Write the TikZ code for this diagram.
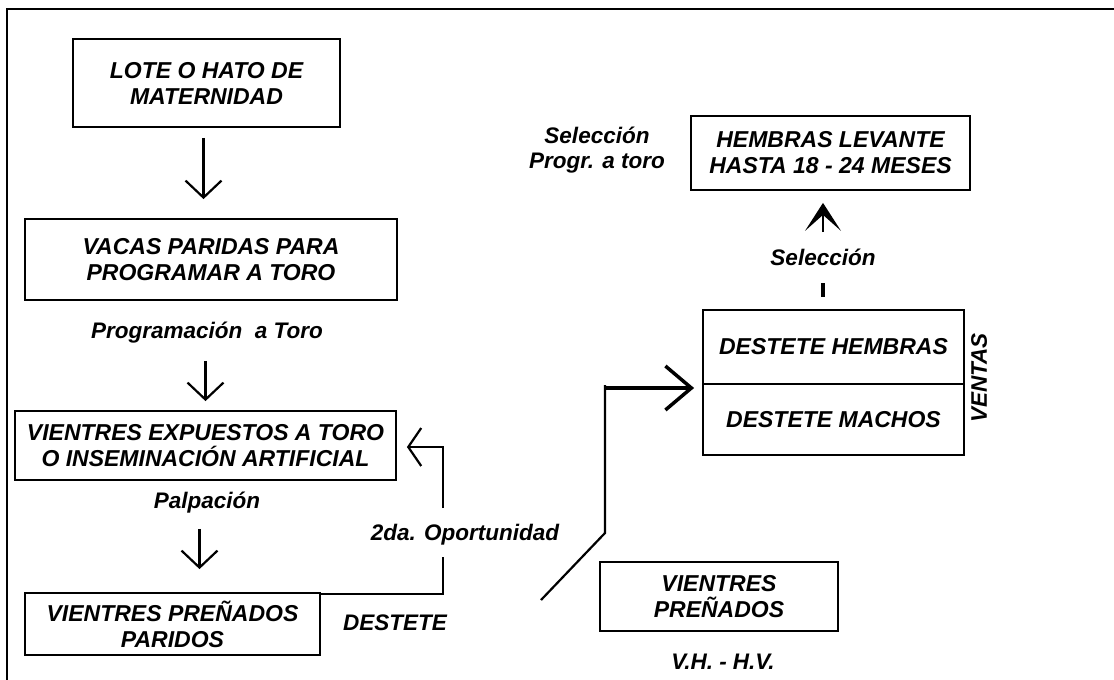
\documentclass[tikz,border=0pt]{standalone}
\usepackage{fontspec}
\setmainfont{Liberation Sans}
\usetikzlibrary{arrows.meta}
\begin{document}
\begin{tikzpicture}[x=1pt,y=-1pt,
  box/.style={draw, line width=1.8pt, inner sep=0pt, align=center,
    font=\fontsize{23}{26}\selectfont\bfseries\itshape},
  lbl/.style={inner sep=0pt, align=center,
    font=\fontsize{22.5}{25}\selectfont\bfseries\itshape},
  conn/.style={line width=2.2pt},
  downarr/.style={conn, -{Straight Barb[length=17pt,width=36pt]}},
  backarr/.style={conn, -{Straight Barb[length=13pt,width=38pt]}},
  bigarr/.style={line width=4pt, -{Straight Barb[length=26pt,width=44pt,line width=3.5pt]}},
  uparr/.style={line width=2.2pt, -{Stealth[length=28pt,width=36pt,inset=16pt]}}]
\useasboundingbox (0,0) rectangle (1114,680);
% frame
\draw[line width=2.2pt] (7,680) -- (7,9) -- (1114,9);
% boxes
\node[box, minimum width=267pt, minimum height=88pt] (lote) at (206.5,83) {LOTE O HATO DE\\MATERNIDAD};
\node[box, minimum width=372pt, minimum height=81pt] (vacas) at (211,259.5) {VACAS PARIDAS PARA\\PROGRAMAR A TORO};
\node[box, minimum width=381pt, minimum height=69pt] (expu) at (205.5,445.5) {VIENTRES EXPUESTOS A TORO\\O INSEMINACIÓN ARTIFICIAL};
\node[box, minimum width=295pt, minimum height=62pt] (pren) at (172.5,624) {VIENTRES PREÑADOS\\PARIDOS};
\node[box, minimum width=279pt, minimum height=74pt] (hemb) at (830.5,153) {HEMBRAS LEVANTE\\HASTA 18 - 24 MESES};
\node[box, minimum width=261pt, minimum height=74pt] (dh) at (833.5,347) {DESTETE HEMBRAS};
\node[box, minimum width=261pt, minimum height=71pt] (dm) at (833.5,419.5) {DESTETE MACHOS};
\node[box, minimum width=238pt, minimum height=69pt] (vp) at (719,596.5) {VIENTRES\\PREÑADOS};
% labels
\node[lbl] (prog) at (207,333) {Programación\ \ a Toro};
\node[lbl] (palp) at (207,503) {Palpación};
\node[lbl] (opor) at (465,535) {2da. Oportunidad};
\node[lbl] (dest) at (395,623) {DESTETE};
\node[lbl] (vhhv) at (723,662) {V.H. - H.V.};
\node[lbl] (selp) at (597,150.5) {Selección\\Progr. a toro};
\node[lbl] (sel) at (823,257) {Selección};
\node[lbl, rotate=90] (ventas) at (979,378) {VENTAS};
% main arrows
\draw[downarr, shorten <=10pt, shorten >=19pt] ([xshift=-3pt]lote.south) -- ([xshift=-3pt]lote.south |- vacas.north);
\draw[downarr, shorten <=60pt, shorten >=9pt] (expu.north |- vacas.south) -- (expu.north);
\draw[downarr, shorten <=48pt, shorten >=23pt] ([xshift=-6pt]expu.south) -- ([xshift=-6pt]expu.south |- pren.north);
% second chance loop
\coordinate (fb1) at (443,557);
\coordinate (fb2) at (443,508);
\coordinate (fb3) at (443,447);
\draw[conn] ([yshift=-2pt]pren.north east) -| (fb1);
\draw[backarr, shorten >=10pt] (fb2) -- (fb3) -- (fb3 -| expu.east);
% weaning path
\coordinate (d0) at (541,600);
\coordinate (d1) at (605,533);
\coordinate (d2) at (605,385);
\draw[conn] (d0) -- (d1) -- (d2);
\draw[bigarr, shorten >=8pt] (604,388) -- (dh.south west |- 0,388);
% selection arrows
\coordinate (ua) at (823,232);
\draw[uparr, shorten >=12pt] (ua) -- (ua |- hemb.south);
\coordinate (st1) at (823,283);
\coordinate (st2) at (823,297);
\draw[line width=3.5pt] (st1) -- (st2);
\end{tikzpicture}
\end{document}
